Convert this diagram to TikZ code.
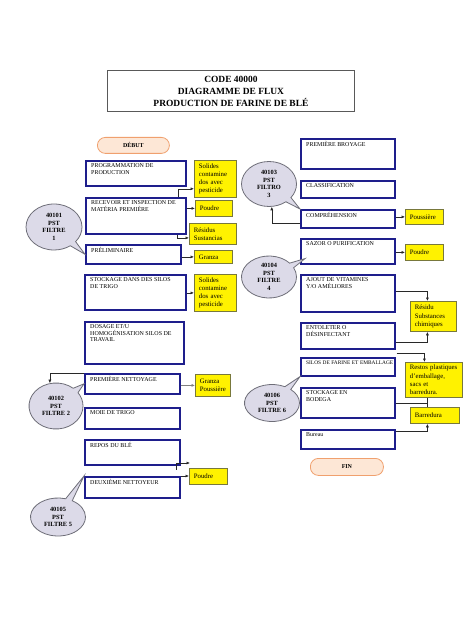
\documentclass[tikz,border=0pt]{standalone}
\usepackage{fontspec}
\setmainfont{Liberation Serif}
\usetikzlibrary{shapes.callouts,shapes.geometric,calc,arrows.meta}
\definecolor{navy}{RGB}{30,30,140}
\definecolor{ybord}{RGB}{120,120,60}
\definecolor{bubfill}{RGB}{220,218,232}
\definecolor{bubdraw}{RGB}{110,110,120}
\definecolor{peach}{RGB}{253,231,214}
\definecolor{peachd}{RGB}{240,160,110}
\definecolor{linec}{RGB}{40,40,40}
\tikzset{
 stepbox/.style={draw=navy, line width=1.6bp, fill=white, inner sep=0pt, anchor=north west},
 boxlbl/.style={font=\fontsize{6}{6.6}\selectfont, align=left, inner sep=0pt, xshift=6bp, yshift=-3.5bp, text=black},
 ybox/.style={draw=ybord, line width=0.8bp, fill=yellow, anchor=north west, font=\fontsize{6.8}{8.2}\selectfont, align=left, inner sep=0pt},
 bubble/.style={ellipse callout, draw=bubdraw, line width=0.8bp, fill=bubfill, font=\bfseries\fontsize{6.4}{7.6}\selectfont, align=center, inner sep=0pt},
 arr/.style={draw=linec, line width=0.6bp, -{Latex[length=3.5bp,width=3bp]}},
 conn/.style={draw=linec, line width=0.6bp},
 term/.style={draw=peachd, fill=peach, rounded corners=8bp, line width=0.8bp, font=\bfseries\fontsize{6}{7}\selectfont, anchor=north west, inner sep=0pt},
}
\newcommand\mybox[6]{%
 \pgfmathsetmacro\bw{#4-#2}\pgfmathsetmacro\bh{#5-#3}%
 \node[stepbox, minimum width=\bw bp, minimum height=\bh bp, label={[boxlbl, anchor=north west]north west:{#6}}] (#1) at (#2,#3) {};}
\newcommand\ybx[6]{%
 \pgfmathsetmacro\bw{#4-#2}\pgfmathsetmacro\bh{#5-#3}\pgfmathsetmacro\tw{#4-#2-9}%
 \node[ybox, minimum width=\bw bp, minimum height=\bh bp, text width=\tw bp] (#1) at (#2,#3) {#6};}
\begin{document}
\begin{tikzpicture}[x=1bp,y=-1bp]
\fill[white] (0,0) rectangle (474,632);
\useasboundingbox (0,0) rectangle (474,632);
% title
\node[draw=gray!70!black, line width=0.9bp, minimum width=247bp, minimum height=41bp, anchor=north west, inner sep=0pt, font=\bfseries\fontsize{9.5}{12}\selectfont, align=center] (title) at (107,70) {CODE 40000\\DIAGRAMME DE FLUX\\PRODUCTION DE FARINE DE BLÉ};
\node[term, minimum width=72bp, minimum height=16bp] (debut) at (97,137) {DÉBUT};
\node[term, minimum width=73bp, minimum height=17bp] (fin) at (310,458) {FIN};
% left column
\mybox{prog}{85}{160}{185}{185}{PROGRAMMATION DE\\PRODUCTION}
\mybox{recv}{85}{197}{185}{233}{RECEVOIR ET INSPECTION DE\\MATÉRIA PREMIÈRE}
\mybox{pre}{85}{244}{180}{263}{PRÉLIMINAIRE}
\mybox{stock}{84}{274}{185}{309}{STOCKAGE DANS DES SILOS\\DE TRIGO}
\mybox{dos}{84}{321}{183}{363}{DOSAGE ET/U\\HOMOGÉNISATION SILOS DE\\TRAVAIL}
\mybox{pn}{84}{373}{179}{393}{PREMIÈRE NETTOYAGE}
\mybox{moie}{84}{407}{179}{428}{MOIE DE TRIGO}
\mybox{repos}{84}{439}{179}{464}{REPOS DU BLÉ}
\mybox{dn}{84}{476}{179}{497}{DEUXIÈME NETTOYEUR}
% right column
\mybox{pb}{300}{138}{394}{168}{PREMIÈRE BROYAGE}
\mybox{cls}{300}{180}{394}{197}{CLASSIFICATION}
\mybox{comp}{300}{209}{394}{227}{COMPRÉHENSION}
\mybox{saz}{300}{238}{394}{263}{SAZOR O PURIFICATION}
\mybox{ajout}{300}{274}{394}{311}{AJOUT DE VITAMINES\\Y/O AMÉLIORES}
\mybox{ento}{300}{322}{394}{348}{ENTOLETER O\\DÉSINFECTANT}
\mybox{silos}{300}{357}{394}{375}{\fontsize{5.4}{6}\selectfont\makebox[87bp][s]{SILOS DE FARINE ET EMBALLAGE}}
\mybox{bod}{300}{387}{394}{417}{STOCKAGE EN\\BODEGA}
\mybox{bur}{300}{429}{394}{448}{Bureau}
% yellow boxes
\ybx{y1}{194}{160}{236}{197}{Solides\\contamine\\dos avec\\pesticide}
\ybx{y2}{195}{200}{232}{216}{Poudre}
\ybx{y3}{189}{223}{236}{244}{Résidus\\Sustancias}
\ybx{y4}{194}{250}{232}{263}{Granza}
\ybx{y5}{194}{274}{236}{311}{Solides\\contamine\\dos avec\\pesticide}
\ybx{y6}{195}{374}{230}{396}{Granza\\Poussière}
\ybx{y7}{189}{468}{227}{484}{Poudre}
\ybx{y8}{405}{209}{443}{224}{Poussière}
\ybx{y9}{405}{244}{443}{260}{Poudre}
\ybx{y10}{410}{301}{456}{331}{Résidu\\Substances\\chimiques}
\ybx{y11}{405}{362}{462}{397}{Restos plastiques\\d'emballage,\\sacs et\\barredura.}
\ybx{y12}{410}{407}{459}{423}{Barredura}
% bubbles
\node[bubble, minimum width=56bp, minimum height=46bp, callout absolute pointer={(pre.west)}] (b1) at (54,227) {40101\\PST\\FILTRE\\1};
\node[bubble, minimum width=54bp, minimum height=46bp, callout absolute pointer={(pn.west)}] (b2) at (56,406) {40102\\PST\\FILTRE 2};
\node[bubble, minimum width=55bp, minimum height=45bp, callout absolute pointer={(comp.north west)}] (b3) at (269,184) {40103\\PST\\FILTRO\\3};
\node[bubble, minimum width=55bp, minimum height=42bp, callout absolute pointer={($(saz.south west)+(5,-6)$)}] (b4) at (269,277) {40104\\PST\\FILTRE\\4};
\node[bubble, minimum width=55bp, minimum height=38bp, callout absolute pointer={(dn.north west)}] (b5) at (58,517) {40105\\PST\\FILTRE 5};
\node[bubble, minimum width=55bp, minimum height=37bp, callout absolute pointer={(silos.south west)}] (b6) at (272,403) {40106\\PST\\FILTRE 6};
% connectors left
\draw[arr] ($(recv.north east)+(-8,0)$) |- ($(y1.south west)+(0,-9)$);
\draw[arr] (recv.east |- y2.west) -- (y2.west);
\draw[arr] ($(recv.south east)+(-9,0)$) |- ($(y3.west)+(0,4)$);
\draw[arr] (pre.east |- y4.west) -- (y4.west);
\draw[arr] (stock.east |- y5.west) -- (y5.west);
\draw[arr, draw=gray] (pn.east |- y6.west) -- (y6.west);
\draw[arr] (pn.north west) -| (b2.105);
\coordinate (rp) at (190,463);
\draw[arr] ($(repos.south east)+(-4,4)$) |- (rp);
\draw[arr] (dn.north east) -- (dn.north east -| y7.west);
% connectors right
\draw[arr] (comp.east |- y8.west) -- (y8.west);
\draw[arr] ($(comp.west)+(0,4)$) -| (b3.-83);
\draw[arr] (saz.east |- y9.west) -- (y9.west);
\draw[arr] ($(ajout.east)+(0,-2)$) -| ($(y10.north)+(-6,0)$);
\draw[arr] ($(ento.east)+(0,6)$) -| ($(y10.south)+(-6,0)$);
\draw[arr] ($(silos.north east)+(1,-4)$) -| ($(y11.north)+(-9.5,0)$);
\coordinate (jn) at ($(y11.south)+(-6.5,0)$);
\draw[conn] (jn) -- (jn |- y12.north);
\draw[conn] (bod.east) -- (bod.east -| jn);
\draw[arr] ($(bur.north east)+(0,2)$) -| (jn |- y12.south);
\end{tikzpicture}
\end{document}
